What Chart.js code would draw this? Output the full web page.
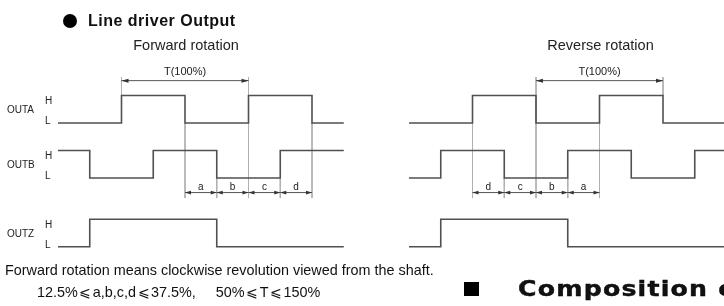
<!DOCTYPE html>
<html>
<head>
<meta charset="utf-8">
<script src="https://cdn.jsdelivr.net/npm/chart.js@4/dist/chart.umd.min.js"></script>
<style>
  html, body { margin: 0; padding: 0; background: #fff; }
  body { width: 724px; height: 306px; position: relative; overflow: hidden;
         font-family: "Liberation Sans", Arial, sans-serif; color: #111; }
  #wrap { position: absolute; left: 0; top: 0; width: 724px; height: 306px; }
  .txt { position: absolute; white-space: pre; }
  .le { padding: 0 1.5px; }
</style>
</head>
<body>
<div id="wrap"><canvas id="chart" width="724" height="306"></canvas></div>

<div style="position:absolute;left:63px;top:14px;width:14px;height:14px;border-radius:50%;background:#000"></div>
<div class="txt" style="left:88px;top:13px;font-size:16px;line-height:16px;font-weight:bold;letter-spacing:0.5px">Line driver Output</div>

<div class="txt" style="left:5px;top:262px;font-size:14.4px;line-height:16px">Forward rotation means clockwise revolution viewed from the shaft.</div>
<div class="txt" style="left:37px;top:284px;font-size:14.4px;line-height:16px">12.5%<span class="le">⩽</span>a,b,c,d<span class="le">⩽</span>37.5%,     50%<span class="le">⩽</span>T<span class="le">⩽</span>150%</div>

<div style="position:absolute;left:464px;top:282px;width:15px;height:14px;background:#000"></div>
<div class="txt" style="left:518px;top:279px;font-family:'DejaVu Sans';font-weight:bold;font-size:21px;line-height:21px;letter-spacing:1px;-webkit-text-stroke:0.4px #000;transform:scaleX(1.2);transform-origin:0 0">Composition of</div>

<script>
// levels per quarter-period slot (1 = H, 0 = L)
const fwdOutA = [0, 0, 1, 1, 0, 0, 1, 1, 0];
const fwdOutB = [1, 0, 0, 1, 1, 0, 0, 1, 1];
const fwdOutZ = [0, 1, 1, 1, 1, 0, 0, 0, 0];
const revOutA = [0, 0, 1, 1, 0, 0, 1, 1, 0, 0];
const revOutB = [0, 1, 1, 0, 0, 1, 1, 0, 0, 1];
const revOutZ = [0, 1, 1, 1, 1, 0, 0, 0, 0, 0];

const signalNames = ["OUTA", "OUTB", "OUTZ"];
const panelTitles = ["Forward rotation", "Reverse rotation"];
const periodLabel = "T(100%)";
const fwdPeriod = [2, 6];
const revPeriod = [4, 8];
const fwdDimLabels = ["a", "b", "c", "d"];
const revDimLabels = ["d", "c", "b", "a"];
const fwdDimStart = 4;
const revDimStart = 2;

// layout (pixels / data units)
const UNIT_X = 31.75, UNIT_Y = 27.5;
const ORIGIN_F = 58, ORIGIN_R = 409, BASE_Y = 123;
const W = 724, H = 306;
const rowBase = [0, -2, -4.5];
const tArrowY = 1.54, tTickY = 1.67, tLabelY = 1.86, titleY = 2.8;
const dimY = -2.53, dimBottom = -2.73, dimLabelY = -2.33;

const SIG = "#505050", GUIDE = "#b0b0b0", INK = "#222";

function stepData(levels, base, end) {
  const pts = levels.map((v, i) => ({ x: i, y: base + v }));
  pts.push({ x: end, y: base + levels[levels.length - 1] });
  return pts;
}

function guideLines(period, dimStart, outA) {
  const xs = new Set([period[0], period[1]]);
  for (let i = 0; i <= 4; i++) xs.add(dimStart + i);
  const out = [];
  xs.forEach(x => {
    const inDims = x >= dimStart && x <= dimStart + 4;
    let top;
    if (x === period[0] || x === period[1]) top = tTickY;
    else if (outA[x] !== outA[x - 1]) top = rowBase[0];
    else top = rowBase[1];
    const bottom = inDims ? dimBottom : rowBase[0] + 1;
    out.push([{ x: x, y: top }, { x: x, y: bottom }]);
  });
  return out;
}

const panels = [
  { axis: "xf", sig: [fwdOutA, fwdOutB, fwdOutZ], end: 9, period: fwdPeriod, dims: fwdDimLabels, dimStart: fwdDimStart, title: panelTitles[0] },
  { axis: "xr", sig: [revOutA, revOutB, revOutZ], end: 10, period: revPeriod, dims: revDimLabels, dimStart: revDimStart, title: panelTitles[1] }
];

const datasets = [];
panels.forEach(p => {
  guideLines(p.period, p.dimStart, p.sig[0]).forEach(seg => {
    datasets.push({ data: seg, xAxisID: p.axis, borderColor: GUIDE, borderWidth: 1, pointRadius: 0, order: 2 });
  });
  p.sig.forEach((lv, r) => {
    datasets.push({ data: stepData(lv, rowBase[r], p.end), xAxisID: p.axis, stepped: true,
      borderColor: SIG, borderWidth: 1.6, pointRadius: 0, order: 1 });
  });
});

function arrowLine(ctx, x1, x2, y, head, half) {
  ctx.beginPath();
  ctx.moveTo(x1, y); ctx.lineTo(x2, y);
  ctx.stroke();
  ctx.beginPath();
  ctx.moveTo(x1, y); ctx.lineTo(x1 + head, y - half); ctx.lineTo(x1 + head, y + half); ctx.closePath();
  ctx.moveTo(x2, y); ctx.lineTo(x2 - head, y - half); ctx.lineTo(x2 - head, y + half); ctx.closePath();
  ctx.fill();
}

const labelsPlugin = {
  id: "timingLabels",
  afterDatasetsDraw(chart) {
    const ctx = chart.ctx, yS = chart.scales.y;
    ctx.save();
    ctx.strokeStyle = "#555"; ctx.fillStyle = "#333"; ctx.lineWidth = 1;
    panels.forEach(p => {
      const xS = chart.scales[p.axis];
      const px = v => xS.getPixelForValue(v);
      // period arrow
      arrowLine(ctx, px(p.period[0]), px(p.period[1]), yS.getPixelForValue(tArrowY), 7, 2);
      // a..d arrows
      p.dims.forEach((d, i) => {
        arrowLine(ctx, px(p.dimStart + i), px(p.dimStart + i + 1), yS.getPixelForValue(dimY), 6, 1.8);
      });
      ctx.fillStyle = INK;
      ctx.textAlign = "center"; ctx.textBaseline = "middle";
      ctx.font = "10px 'Liberation Sans'";
      p.dims.forEach((d, i) => {
        ctx.fillText(d, px(p.dimStart + i + 0.5), yS.getPixelForValue(dimLabelY));
      });
      ctx.font = "11px 'Liberation Sans'";
      ctx.fillText(periodLabel, px((p.period[0] + p.period[1]) / 2), yS.getPixelForValue(tLabelY));
      ctx.font = "14.5px 'Liberation Sans'";
      ctx.fillText(p.title, px((p.period[0] + p.period[1]) / 2) + 1, yS.getPixelForValue(titleY));
      ctx.fillStyle = "#333";
    });
    // row labels (forward side only)
    ctx.fillStyle = INK;
    ctx.textAlign = "left"; ctx.textBaseline = "middle";
    ctx.font = "10px 'Liberation Sans'";
    signalNames.forEach((n, r) => {
      const b = rowBase[r];
      ctx.fillText(n, 7, yS.getPixelForValue(b + 0.45));
      ctx.fillText("H", 45, yS.getPixelForValue(b + 0.78));
      ctx.fillText("L", 45, yS.getPixelForValue(b + 0.07));
    });
    ctx.restore();
  }
};

new Chart(document.getElementById("chart"), {
  type: "line",
  data: { datasets: datasets },
  options: {
    responsive: false,
    animation: false,
    events: [],
    layout: { padding: 0 },
    plugins: { legend: { display: false }, title: { display: false }, tooltip: { enabled: false } },
    scales: {
      xf: { type: "linear", display: false, min: -ORIGIN_F / UNIT_X, max: (W - ORIGIN_F) / UNIT_X },
      xr: { type: "linear", display: false, min: -ORIGIN_R / UNIT_X, max: (W - ORIGIN_R) / UNIT_X },
      y: { type: "linear", display: false, min: -(H - BASE_Y) / UNIT_Y, max: BASE_Y / UNIT_Y }
    }
  },
  plugins: [labelsPlugin]
});
</script>
</body>
</html>
